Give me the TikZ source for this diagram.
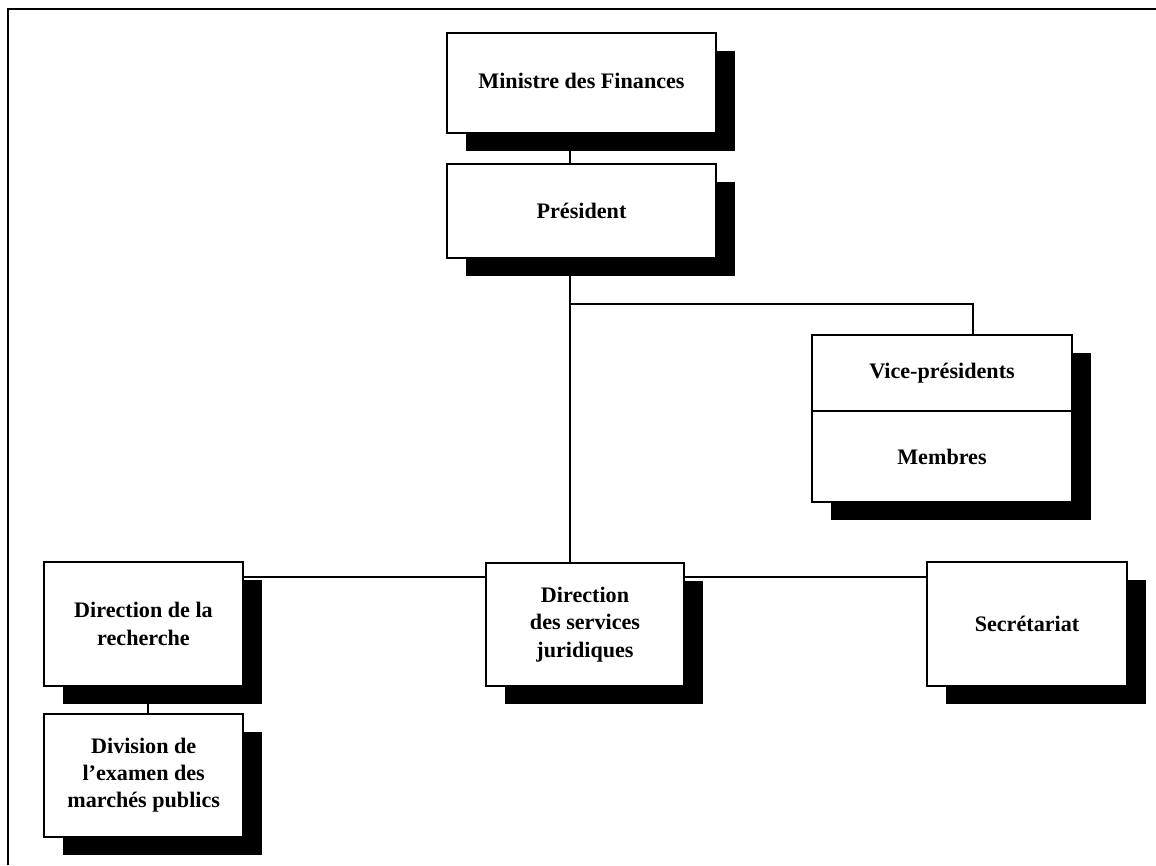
\documentclass[tikz,border=0pt]{standalone}
\usepackage{fontspec}
\setmainfont{Liberation Serif}
\usetikzlibrary{shadows,calc}
\pgfdeclarelayer{bg}
\pgfsetlayers{bg,main}
\def\u{0.75pt}
\begin{document}
\begin{tikzpicture}[x=0.75pt,y=-0.75pt,
  orgbox/.style={draw, line width=1.5pt, fill=white, align=center, inner sep=0pt,
    font=\fontsize{16.6pt}{20.5pt}\selectfont\bfseries,
    general shadow={fill=black, shadow xshift=19*\u, shadow yshift=-18*\u}},
  link/.style={line width=1.5pt},
  frameline/.style={line width=1.9pt}]
\useasboundingbox (0,0) rectangle (1156,865);
% frame
\draw[frameline] (8,865) -- (8,9) -- (1156,9);
% boxes
\node[orgbox, minimum width=269*\u, minimum height=100*\u] (min) at (581.5,83) {\raisebox{3pt}{Ministre des Finances}};
\node[orgbox, minimum width=269*\u, minimum height=94*\u] (pres) at (581.5,211) {Président};
\node[orgbox, minimum width=260*\u, minimum height=76*\u] (vp) at (942,373) {\raisebox{-3pt}{Vice-présidents}};
\node[orgbox, minimum width=260*\u, minimum height=91*\u] (mem) at (942,456.5) {Membres};
\node[orgbox, minimum width=199*\u, minimum height=124*\u] (dr) at (143.5,624) {Direction de la\\recherche};
\node[orgbox, minimum width=199*\u, minimum height=123*\u] (div) at (143.7,775.3) {Division de\\l’examen des\\marchés publics};
\node[orgbox, minimum width=198*\u, minimum height=123*\u] (dsj) at (585,624.5) {Direction\\des services\\juridiques};
\node[orgbox, minimum width=200*\u, minimum height=124*\u] (sec) at (1027,624) {Secrétariat};
% connectors
\begin{pgfonlayer}{bg}
\coordinate (tx) at (570,0);
\coordinate (vx) at (973,0);
\coordinate (by) at (0,304);
\coordinate (hy) at (0,577);
\coordinate (dx) at (148,0);
\draw[link] (min.south -| tx) -- (pres.north -| tx);
\draw[link] (pres.south -| tx) -- (dsj.north -| tx);
\draw[link] (tx |- by) -- (vx |- by) -- (vp.north -| vx);
\draw[link] (dr.east |- hy) -- (sec.west |- hy);
\draw[link] (dr.south -| dx) -- (div.north -| dx);
\end{pgfonlayer}
\end{tikzpicture}
\end{document}
